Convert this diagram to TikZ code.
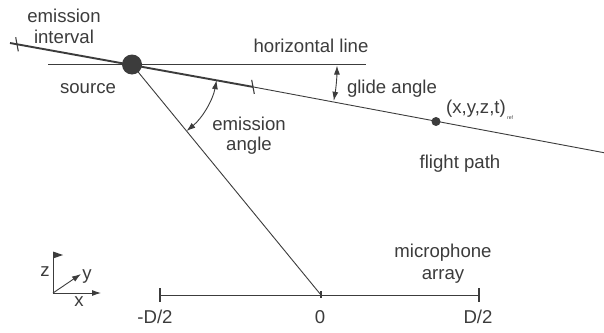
\documentclass[tikz,border=0pt]{standalone}
\usepackage{fontspec}
\setmainfont{Liberation Sans}
\usetikzlibrary{arrows.meta,calc}
\definecolor{ink}{RGB}{60,60,60}
\begin{document}
\begin{tikzpicture}[x=1pt,y=-1pt,
  lbl/.style={inner sep=0pt,anchor=base,text=ink,font=\fontsize{18.6}{21}\selectfont},
  thin/.style={draw=ink,line width=0.9pt},
  tickmark/.style={draw=ink,line width=1.1pt},
  thick/.style={draw=ink,line width=1.9pt},
  dbl/.style={draw=ink,line width=0.9pt,{Latex[length=9pt,width=6pt]}-{Latex[length=9pt,width=6pt]}},
  axis/.style={draw=ink,line width=0.9pt,-{Latex[length=9pt,width=6pt]}}]
\useasboundingbox[fill=white] (0,0) rectangle (604,332);
% coordinates
\coordinate (fpL) at (10,43);
\coordinate (tickL) at (17,44.3);
\coordinate (source) at (132,64.5);
\coordinate (tickR) at (253,86.9);
\coordinate (fpR) at (604,152.7);
\coordinate (hL) at (48,64);
\coordinate (hR) at (366,64);
\coordinate (mL) at (160,295);
\coordinate (m0) at (321,295);
\coordinate (mR) at (479,295);
% horizontal line
\draw[thin] (hL) -- (hR);
% flight path
\draw[thin] (tickR) -- (fpR);
\draw[thick] (fpL) -- (tickR);
\draw[tickmark] ($(tickL)+(-1.3,-7)$) -- ($(tickL)+(1.3,7)$);
\draw[tickmark] ($(tickR)+(-1.3,-7)$) -- ($(tickR)+(1.3,7)$);
% emission line
\draw[thin] (source) -- (m0);
% microphone array
\draw[thin] (mL) -- (mR);
\draw[tickmark] ($(mL)+(0,-7)$) -- ($(mL)+(0,7)$);
\draw[tickmark] ($(mR)+(0,-7)$) -- ($(mR)+(0,7)$);
\draw[tickmark] ($(m0)+(0,-4)$) -- ($(m0)+(0,3)$);
% source circle and point
\node[circle,fill=ink,inner sep=0pt,minimum size=20pt] (src) at (source) {};
\node[circle,fill=ink,inner sep=0pt,minimum size=9pt] (pt) at (436,121.5) {};
% angle arcs
\draw[dbl] (source) ++(10.5:86) arc[start angle=10.5,end angle=50.7,radius=86];
\draw[dbl] (source) ++(0.3:205) arc[start angle=0.3,end angle=10.2,radius=205];
% axes
\coordinate (O) at (53,293);
\draw[thin] (O) -- (53,253);
\fill[ink] (53,251.5) -- (63,255) -- (53,258.5) -- cycle;
\draw[axis] (O) -- (101,293);
\draw[axis] (O) -- (81,274);
% labels
\node[lbl] at (64,22) {emission};
\node[lbl] at (64,43) {interval};
\node[lbl] at (88,93) {source};
\node[lbl] at (311,52) {horizontal line};
\node[lbl] at (392,93) {glide angle};
\node[lbl,anchor=base west] (coord) at (446,113) {(x,y,z,t)};
\node[inner sep=0pt,anchor=base west,text=ink,font=\fontsize{5}{6}\selectfont] at ($(coord.base east)+(1,6)$) {ref};
\node[lbl] at (460,168) {flight path};
\node[lbl] at (249,130) {emission};
\node[lbl] at (249,150) {angle};
\node[lbl] at (443,257) {microphone};
\node[lbl] at (443,279) {array};
\node[lbl] at (155,323) {-D/2};
\node[lbl] at (320,323) {0};
\node[lbl] at (478,323) {D/2};
\node[lbl] at (45,276) {z};
\node[lbl] at (87,279) {y};
\node[lbl] at (79,306) {x};
\end{tikzpicture}
\end{document}
